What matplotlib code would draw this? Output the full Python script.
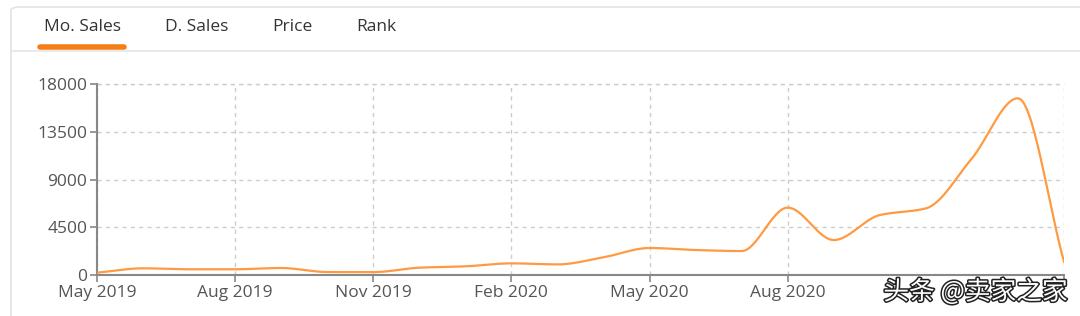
import numpy as np
import matplotlib.pyplot as plt
import matplotlib.patheffects as pe
from matplotlib.patches import FancyBboxPatch

# monthly sales, May 2019 .. Feb 2021
months = ['May 2019', 'Jun 2019', 'Jul 2019', 'Aug 2019', 'Sep 2019', 'Oct 2019',
          'Nov 2019', 'Dec 2019', 'Jan 2020', 'Feb 2020', 'Mar 2020', 'Apr 2020',
          'May 2020', 'Jun 2020', 'Jul 2020', 'Aug 2020', 'Sep 2020', 'Oct 2020',
          'Nov 2020', 'Dec 2020', 'Jan 2021', 'Feb 2021']
sales = [220, 630, 540, 540, 660, 280, 270, 690, 820, 1100, 1000, 1670,
         2550, 2360, 2260, 6360, 3300, 5660, 6290, 11010, 16680, 1260]
yticks = [0, 4500, 9000, 13500, 18000]
tick_idx = [0, 3, 6, 9, 12, 15, 21]
tabs = ['Mo. Sales', 'D. Sales', 'Price', 'Rank']
tab_x = [82, 197, 292, 376]


def smooth(x, y, n=30):
    # monotone cubic hermite (Fritsch-Carlson) so the curve passes the points
    x = np.asarray(x, float)
    y = np.asarray(y, float)
    h = np.diff(x)
    d = np.diff(y) / h
    m = np.zeros_like(y)
    m[0], m[-1] = d[0], d[-1]
    for i in range(1, len(y) - 1):
        if d[i - 1] * d[i] > 0:
            m[i] = 2 / (1 / d[i - 1] + 1 / d[i])
    xs, ys = [], []
    for i in range(len(x) - 1):
        t = np.linspace(0, 1, n, endpoint=False)
        h00 = 2 * t**3 - 3 * t**2 + 1
        h10 = t**3 - 2 * t**2 + t
        h01 = -2 * t**3 + 3 * t**2
        h11 = t**3 - t**2
        xs.append(x[i] + t * h[i])
        ys.append(h00 * y[i] + h10 * h[i] * m[i] + h01 * y[i + 1] + h11 * h[i] * m[i + 1])
    xs.append([x[-1]])
    ys.append([y[-1]])
    return np.concatenate(xs), np.concatenate(ys)


plt.rcParams['font.family'] = ['Open Sans', 'DejaVu Sans']

W, H = 1080, 316
fig = plt.figure(figsize=(W / 100, H / 100), dpi=100)
fig.patch.set_facecolor('white')

# panel frame and tab bar
frame = FancyBboxPatch((11 / W, -0.05), 1.2, 1.05 - 7 / H, boxstyle='round,pad=0,rounding_size=0.01',
                       transform=fig.transFigure, fill=False, edgecolor='#e3e3e3', linewidth=1.2)
fig.add_artist(frame)
fig.add_artist(plt.Line2D([11 / W, 1], [1 - 51 / H, 1 - 51 / H], transform=fig.transFigure,
                          color='#e6e6e6', linewidth=1.2))
for name, tx in zip(tabs, tab_x):
    fig.text(tx / W, 1 - 27 / H, name, ha='center', va='center', fontsize=12.5, color='#333333')
fig.add_artist(plt.Line2D([40 / W, 124 / W], [1 - 46.5 / H, 1 - 46.5 / H], transform=fig.transFigure,
                          color='#f57f17', linewidth=4, solid_capstyle='round'))

ax = fig.add_axes([97 / W, 41 / H, (1064 - 97) / W, (275 - 84.3) / H])
x = np.arange(len(sales))
sx, sy = smooth(x, sales)
ax.plot(sx, sy, color='#ff9a42', linewidth=1.6, zorder=3)

ax.set_xlim(0, len(sales) - 1)
ax.set_ylim(0, 18000)
ax.set_yticks(yticks)
ax.set_yticklabels([str(v) for v in yticks])
ax.set_xticks(tick_idx)
ax.set_xticklabels([months[i] if i <= 15 else '' for i in tick_idx])
ax.tick_params(colors='#888888', labelcolor='#555555', labelsize=12.5, length=5, width=1.2, pad=2)
ax.grid(True, linestyle=(0, (3, 3)), color='#cccccc', linewidth=1)
for s in ['top', 'right']:
    ax.spines[s].set_visible(False)
for s in ['left', 'bottom']:
    ax.spines[s].set_color('#888888')
    ax.spines[s].set_linewidth(1.5)
ax.axhline(18000, linestyle=(0, (3, 3)), color='#cccccc', linewidth=1, zorder=1, clip_on=False)

# watermark
fig.text(1068 / W, 1 - 292 / H, '头条 @卖家之家', ha='right', va='center', fontsize=18.5,
         color='white', family=['Noto Sans CJK SC', 'DejaVu Sans'],
         path_effects=[pe.withStroke(linewidth=2.2, foreground='#222222')])

fig.savefig('out.png', dpi=100, facecolor='white')
